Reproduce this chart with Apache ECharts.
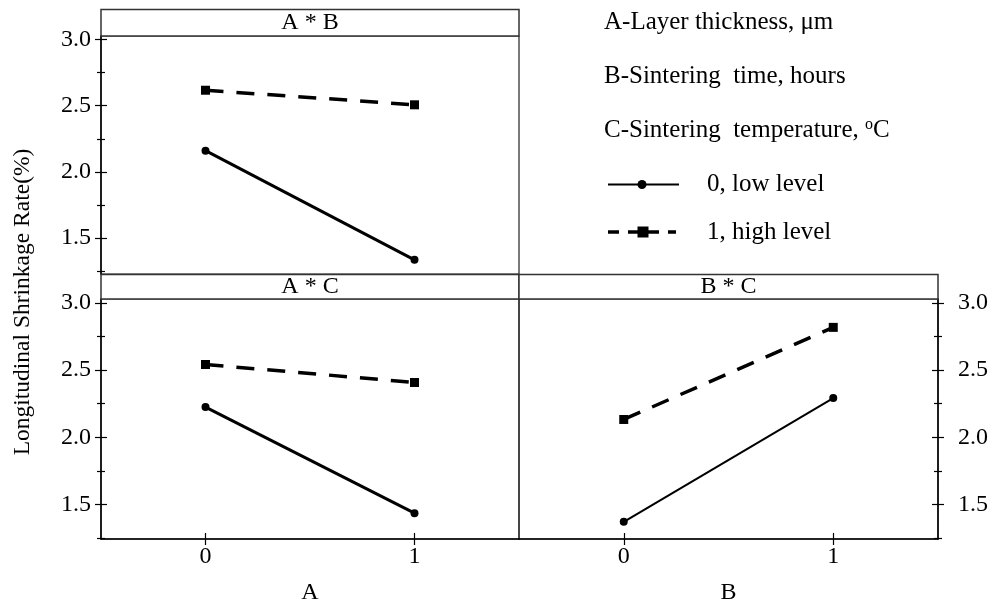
<!DOCTYPE html>
<html><head><meta charset="utf-8">
<script src="https://cdn.jsdelivr.net/npm/echarts@6/dist/echarts.min.js"></script>
<style>html,body{margin:0;padding:0;background:#fff}#c{width:993px;height:604px}</style>
</head><body><div id="c"></div>
<script>
// ---- data ----
const levels = [0, 1];
const abLow = [2.16, 1.337];
const abHigh = [2.616, 2.506];
const acLow = [2.224, 1.435];
const acHigh = [2.541, 2.407];
const bcLow = [1.371, 2.291];
const bcHigh = [2.132, 2.817];
const yMajor = [1.5, 2.0, 2.5, 3.0];
const yMinor = [1.25, 1.75, 2.25, 2.75];
const panelTitles = ['A * B', 'A * C', 'B * C'];
const factorNames = ['A', 'B'];
const legendNames = ['0, low level', '1, high level'];
const factorNotes = ['A-Layer thickness, μm', 'B-Sintering  time, hours', 'C-Sintering  temperature, '];
const yTitle = 'Longitudinal Shrinkage Rate(%)';

const FONT = '"Liberation Serif", "Times New Roman", serif';
const FS = 24;
const LFS = 25;

const panels = [
  {grid:{left:101, top:36, width:418, height:238}, ymin:1.23, ymax:3.025, ySide:'left', xTicks:false, xName:'', low:abLow, high:abHigh, title:panelTitles[0], header:{x:101, y:9.5, w:418, h:26.5}, ty:23, thin:false},
  {grid:{left:101, top:299, width:418, height:240}, ymin:1.243, ymax:3.028, ySide:'left', xTicks:true, xName:factorNames[0], low:acLow, high:acHigh, title:panelTitles[1], header:{x:101, y:274.5, w:418, h:24.5}, ty:287, thin:false},
  {grid:{left:519, top:299, width:419, height:240}, ymin:1.243, ymax:3.028, ySide:'right', xTicks:true, xName:factorNames[1], low:bcLow, high:bcHigh, title:panelTitles[2], header:{x:519, y:274.5, w:419, h:24.5}, ty:287, thin:true}
];

const grid = [], xAxis = [], yAxis = [], series = [], graphic = [];
const black = '#000';

panels.forEach((p, i) => {
  grid.push(Object.assign({show:true, borderColor:'#222', borderWidth:1.2, backgroundColor:'transparent', containLabel:false, outerBoundsMode:'none'}, p.grid));
  // x axes: outside ticks + labels, and inside ticks
  [false, true].forEach(inside => {
    xAxis.push({
      type:'value', gridIndex:i, min:-0.5, max:1.5, position:'bottom',
      axisLine:{show:p.xTicks && !inside, onZero:false, lineStyle:{color:black, width:1.5}},
      axisTick:{show:p.xTicks, inside:inside, length:6, customValues:levels, lineStyle:{color:black, width:1.2}},
      axisLabel:{show:p.xTicks && !inside, customValues:levels, margin:6, fontFamily:FONT, fontSize:FS, color:black},
      splitLine:{show:false},
      name:(!inside && p.xTicks) ? p.xName : '', nameLocation:'middle', nameGap:42,
      nameTextStyle:{fontFamily:FONT, fontSize:FS, color:black}
    });
  });
  // y axes: major out/in, minor out/in
  [[yMajor, false, 6, true], [yMajor, true, 6, false], [yMinor, false, 4, false], [yMinor, true, 4, false]].forEach(([vals, inside, len, main]) => {
    yAxis.push({
      type:'value', gridIndex:i, min:p.ymin, max:p.ymax, position:p.ySide,
      axisLine:{show:main, onZero:false, lineStyle:{color:black, width:1.5}},
      axisTick:{show:true, inside:inside, length:len, customValues:vals, lineStyle:{color:black, width:1.2}},
      axisLabel:{show:main, customValues:yMajor, margin:p.ySide === 'left' ? 10 : 20,
        formatter:v => v.toFixed(1), fontFamily:FONT, fontSize:FS, color:black},
      splitLine:{show:false}
    });
  });
  series.push({
    type:'line', name:legendNames[0], xAxisIndex:2*i, yAxisIndex:4*i,
    data:levels.map((x, k) => [x, p.low[k]]),
    symbol:'circle', symbolSize:8, showSymbol:true,
    lineStyle:{color:black, width:p.thin ? 2 : 3}, itemStyle:{color:black}, z:5
  });
  series.push({
    type:'line', name:legendNames[1], xAxisIndex:2*i, yAxisIndex:4*i,
    data:levels.map((x, k) => [x, p.high[k]]),
    symbol:'rect', symbolSize:9, showSymbol:true,
    lineStyle:{color:black, width:3.5, type:[18, 13]}, itemStyle:{color:black}, z:5
  });
  // header strip
  graphic.push({type:'rect', shape:{x:p.header.x, y:p.header.y, width:p.header.w, height:p.header.h},
    style:{fill:'#fff', stroke:'#333', lineWidth:1.5}, z:1});
  graphic.push({type:'text', x:p.header.x + p.header.w / 2, y:p.ty,
    style:{text:p.title, fontFamily:FONT, fontSize:FS, fill:black, align:'center', verticalAlign:'middle'}, z:2});
});

// factor notes
const noteY = [22.5, 76.5, 130.5];
factorNotes.forEach((t, k) => {
  if (k === 2) {
    graphic.push({type:'text', x:604, y:noteY[k],
      style:{text:'{n|' + t + '}{s|o}{n|C}', fontFamily:FONT, fill:black, verticalAlign:'middle',
        rich:{n:{fontSize:LFS, fontFamily:FONT, lineHeight:27, fill:black},
              s:{fontSize:16, fontFamily:FONT, lineHeight:15, verticalAlign:'top', fill:black}}}});
  } else {
    graphic.push({type:'text', x:604, y:noteY[k],
      style:{text:t, fontFamily:FONT, fontSize:LFS, fill:black, verticalAlign:'middle'}});
  }
});
// legend samples
graphic.push({type:'line', shape:{x1:608, y1:184.5, x2:679, y2:184.5}, style:{stroke:black, lineWidth:2}});
graphic.push({type:'circle', shape:{cx:642, cy:184.5, r:4.5}, style:{fill:black}});
graphic.push({type:'line', shape:{x1:608, y1:232, x2:676, y2:232}, style:{stroke:black, lineWidth:3.5, lineDash:[11, 9]}});
graphic.push({type:'rect', shape:{x:637.5, y:226.5, width:11, height:11}, style:{fill:black}});
graphic.push({type:'text', x:707, y:184, style:{text:legendNames[0], fontFamily:FONT, fontSize:LFS, fill:black, verticalAlign:'middle'}});
graphic.push({type:'text', x:707, y:232, style:{text:legendNames[1], fontFamily:FONT, fontSize:LFS, fill:black, verticalAlign:'middle'}});
// y title
graphic.push({type:'text', x:23, y:302, rotation:Math.PI / 2,
  style:{text:yTitle, fontFamily:FONT, fontSize:23.5, fill:black, align:'center', verticalAlign:'middle'}});

const chart = echarts.init(document.getElementById('c'), null, {renderer:'canvas'});
chart.setOption({animation:false, backgroundColor:'#fff', grid, xAxis, yAxis, series, graphic});
</script>
</body></html>
